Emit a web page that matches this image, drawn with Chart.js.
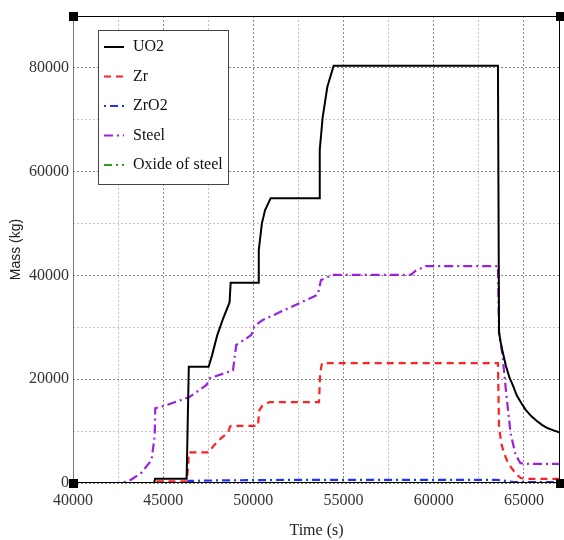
<!DOCTYPE html>
<html>
<head>
<meta charset="utf-8">
<script src="https://cdn.jsdelivr.net/npm/chart.js@4"></script>
<style>
  html, body { margin: 0; padding: 0; background: #fff; }
  #wrap { width: 564px; height: 540px; }
</style>
</head>
<body>
<div id="wrap"><canvas id="canvas"></canvas></div>
<script>
// time (s) / mass (kg) pairs for each material
var uo2Time = [40000, 44500, 44550, 46300, 46350, 46420, 47520, 47700, 48000, 48300, 48680, 48740, 50260, 50300, 50470, 50650, 50960, 53640, 53680, 53840, 54100, 54450, 63560, 63620, 63700, 63800, 64000, 64200, 64400, 64600, 64850, 65100, 65400, 65700, 66000, 66300, 66600, 67000];
var uo2Mass = [0, 0, 800, 800, 10000, 22400, 22400, 24500, 28500, 31500, 34800, 38600, 38600, 44900, 50000, 52600, 54900, 54900, 64200, 70400, 76300, 80400, 80400, 29000, 27300, 25600, 22600, 20300, 18700, 16900, 15400, 14100, 12900, 12000, 11200, 10600, 10200, 9700];

var zrTime = [40000, 44400, 44500, 46300, 46380, 46420, 47520, 47800, 48200, 48600, 48700, 48760, 50250, 50330, 50500, 50900, 53640, 53700, 53800, 63560, 63620, 63750, 63900, 64080, 64260, 64550, 64820, 65100, 67000];
var zrMass = [0, 0, 300, 300, 3000, 5900, 5900, 7200, 8600, 9700, 10800, 11000, 11000, 14000, 14900, 15600, 15600, 21000, 23100, 23100, 10800, 7600, 5700, 4200, 3150, 1800, 950, 800, 800];

var zro2Time = [40000, 46300, 46400, 48000, 52000, 63500, 64000, 64500, 67000];
var zro2Mass = [0, 0, 400, 500, 600, 600, 400, 150, 150];

var steelTime = [40000, 42700, 43200, 43800, 44350, 44530, 44560, 45180, 46470, 47400, 47580, 48870, 49050, 49880, 50070, 50520, 53570, 53750, 54400, 58730, 59000, 59560, 63560, 63620, 63800, 64000, 64260, 64540, 64810, 65200, 67000];
var steelMass = [0, 0, 600, 2000, 4400, 9000, 14400, 15000, 16600, 18900, 20200, 21700, 26600, 28500, 30300, 31400, 36300, 39100, 40100, 40100, 40900, 41800, 41800, 29000, 25000, 17900, 9600, 5400, 3800, 3700, 3700];

var oxideTime = [40000, 67000];
var oxideMass = [0, 0];

// grid positions; only the labelled ones get text
var xTicks = [40000, 42500, 45000, 47500, 50000, 52500, 55000, 57500, 60000, 62500, 65000];
var xLabels = [40000, 45000, 50000, 55000, 60000, 65000];
var yTicks = [0, 10000, 20000, 30000, 40000, 50000, 60000, 70000, 80000, 90000];
var yLabels = [0, 20000, 40000, 60000, 80000];

function pts(xs, ys) {
	return xs.map(function(x, i) { return {x: x, y: ys[i]}; });
}

// frame, corner handles and boxed legend
var framePlugin = {
	id: 'frame',
	afterDatasetsDraw: function(chart) {
		var a = chart.chartArea, c = chart.ctx;
		c.save();
		c.lineWidth = 1;
		c.strokeStyle = '#000';
		c.beginPath();
		c.moveTo(a.left, a.top + 0.5); c.lineTo(a.right, a.top + 0.5);
		c.moveTo(a.right - 0.5, a.top); c.lineTo(a.right - 0.5, a.bottom);
		c.moveTo(a.left, a.bottom - 0.5); c.lineTo(a.right, a.bottom - 0.5);
		c.stroke();
		c.strokeStyle = '#777';
		c.beginPath();
		c.moveTo(a.left + 0.5, a.top); c.lineTo(a.left + 0.5, a.bottom);
		c.stroke();
		c.fillStyle = '#000';
		[[a.left, a.top], [a.right, a.top], [a.left, a.bottom], [a.right, a.bottom]].forEach(function(p) {
			c.fillRect(p[0] - 4, p[1] - 4, 9, 9);
		});
		c.restore();
	},
	afterDraw: function(chart) {
		var c = chart.ctx;
		var bx = 98, by = 30, bw = 130, bh = 154;
		c.save();
		c.fillStyle = '#fff';
		c.fillRect(bx, by, bw, bh);
		c.strokeStyle = '#444';
		c.lineWidth = 1;
		c.strokeRect(bx + 0.5, by + 0.5, bw, bh);
		c.font = '16px "Liberation Serif", serif';
		c.textBaseline = 'middle';
		chart.data.datasets.forEach(function(ds, i) {
			var y = by + 17 + i * 29.5;
			c.strokeStyle = ds.borderColor;
			c.lineWidth = 2;
			c.setLineDash(ds.borderDash || []);
			c.beginPath();
			c.moveTo(104, y); c.lineTo(124, y);
			c.stroke();
			c.setLineDash([]);
			c.fillStyle = '#111';
			c.fillText(ds.label, 133, y);
		});
		c.restore();
	}
};

function gridColor(labels) {
	return function(ctx) {
		var v = ctx.tick ? ctx.tick.value : 0;
		return labels.indexOf(v) >= 0 ? '#8a8a8a' : '#dcb8c0';
	};
}

function fixedTicks(list) {
	return function(scale) {
		scale.ticks = list.map(function(v) { return {value: v}; });
	};
}

const ctx = document.getElementById('canvas').getContext('2d');

const myChart = new Chart(ctx, {
	type: 'line',
	data: {
		datasets: [{
			label: 'UO2',
			data: pts(uo2Time, uo2Mass),
			borderColor: '#000000',
			borderWidth: 2
		}, {
			label: 'Zr',
			data: pts(zrTime, zrMass),
			borderColor: '#ff2020',
			borderWidth: 2.2,
			borderDash: [7, 5]
		}, {
			label: 'ZrO2',
			data: pts(zro2Time, zro2Mass),
			borderColor: '#2030ff',
			borderWidth: 2.2,
			borderDash: [2, 4, 8, 4]
		}, {
			label: 'Steel',
			data: pts(steelTime, steelMass),
			borderColor: '#9b20e0',
			borderWidth: 2.2,
			borderDash: [9, 4, 2, 4]
		}, {
			label: 'Oxide of steel',
			data: pts(oxideTime, oxideMass),
			borderColor: '#28a028',
			borderWidth: 2.2,
			borderDash: [8, 4, 2, 4, 2, 4]
		}]
	},
	options: {
		responsive: true,
		maintainAspectRatio: false,
		animation: false,
		layout: { padding: { top: 16, right: 4, left: 0, bottom: 0 } },
		elements: { point: { radius: 0 }, line: { tension: 0, fill: false } },
		plugins: { legend: { display: false }, tooltip: { enabled: false } },
		scales: {
			x: {
				type: 'linear',
				min: 40000,
				max: 67000,
				afterBuildTicks: fixedTicks(xTicks),
				afterFit: function(s) { s.height = 57; },
				border: { display: false, dash: [2, 2] },
				grid: { color: gridColor(xLabels), drawTicks: false, lineWidth: 1 },
				ticks: {
					autoSkip: false,
					maxRotation: 0,
					padding: 8,
					color: '#333',
					font: { family: '"Liberation Serif", serif', size: 16 },
					callback: function(v) { return xLabels.indexOf(v) >= 0 ? String(v) : ''; }
				},
				title: {
					display: true,
					text: 'Time (s)',
					color: '#222',
					padding: { top: 0, bottom: 0 },
					font: { family: '"Liberation Serif", serif', size: 16 }
				}
			},
			y: {
				min: 0,
				max: 90000,
				afterBuildTicks: fixedTicks(yTicks),
				afterFit: function(s) { s.width = 73; },
				border: { display: false, dash: [2, 2] },
				grid: { color: gridColor(yLabels), drawTicks: false, lineWidth: 1 },
				ticks: {
					autoSkip: false,
					padding: 4,
					color: '#333',
					font: { family: '"Liberation Serif", serif', size: 16 },
					callback: function(v) { return yLabels.indexOf(v) >= 0 ? String(v) : ''; }
				},
				title: {
					display: true,
					text: 'Mass (kg)',
					color: '#222',
					padding: { top: 8, bottom: 0 },
					font: { family: '"Liberation Sans", sans-serif', size: 14 }
				}
			}
		}
	},
	plugins: [framePlugin]
});
</script>
</body>
</html>
